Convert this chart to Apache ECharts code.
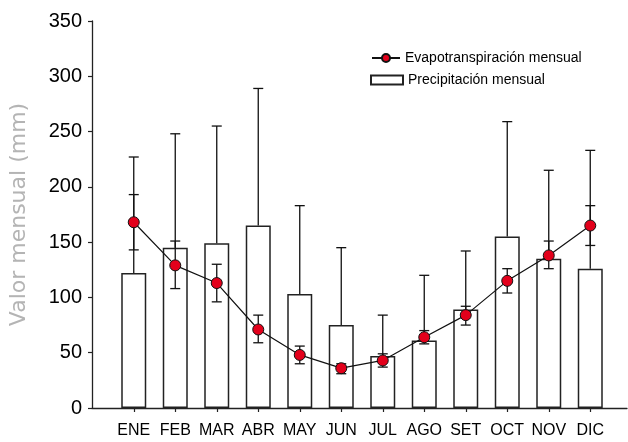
<!DOCTYPE html>
<html>
<head>
<meta charset="utf-8">
<script src="https://cdn.jsdelivr.net/npm/echarts@6/dist/echarts.min.js"></script>
<style>html,body{margin:0;padding:0;background:#fff;}#c{width:628px;height:442px;}</style>
</head>
<body>
<div id="c"></div>
<script>
var months = ['ENE','FEB','MAR','ABR','MAY','JUN','JUL','AGO','SET','OCT','NOV','DIC'];
var precip = [122, 145, 149, 165, 103, 75, 47, 61, 89, 155, 135, 126];
var precipUpper = [227, 248, 255, 289, 183, 145, 84, 120, 142, 259, 215, 233];
var evap = [168, 129, 113, 71, 48, 36, 43, 64, 84, 115, 138, 165];
var evapUpper = [193, 151, 130, 84, 56, 40, 49, 70, 92, 126, 151, 183];
var evapLower = [143, 108, 96, 59, 40, 31, 37, 58, 75, 104, 126, 147];
var yTicks = [0, 50, 100, 150, 200, 250, 300, 350];

var precipErr = months.map(function(m, i){ return [i, precip[i], precipUpper[i]]; });
var evapErr = months.map(function(m, i){ return [i, evapLower[i], evapUpper[i]]; });

function errRender(capLow) {
  return function(params, api) {
    var lo = api.coord([api.value(0), api.value(1)]);
    var hi = api.coord([api.value(0), api.value(2)]);
    var c = 5;
    var st = {stroke:'#111', lineWidth:1.3};
    var ch = [
      {type:'line', shape:{x1:lo[0], y1:lo[1], x2:hi[0], y2:hi[1]}, style:st},
      {type:'line', shape:{x1:hi[0]-c, y1:hi[1], x2:hi[0]+c, y2:hi[1]}, style:st}
    ];
    if (capLow) ch.push({type:'line', shape:{x1:lo[0]-c, y1:lo[1], x2:lo[0]+c, y2:lo[1]}, style:st});
    return {type:'group', children:ch};
  };
}

var chart = echarts.init(document.getElementById('c'), null, {renderer:'canvas'});
chart.setOption({
  animation: false,
  backgroundColor: '#fff',
  grid: [
    {left:113, right:17, top:21, bottom:34},
    {left:90, right:1, top:21, bottom:34}
  ],
  legend: [
    {data:['Evapotranspiración mensual'], orient:'vertical', left:366, top:46, itemWidth:28, itemHeight:10, itemGap:6,
     textStyle:{fontFamily:'Liberation Sans', fontSize:14, color:'#000'}},
    {data:['Precipitación mensual'], orient:'vertical', left:365, top:68, itemWidth:32, itemHeight:9, icon:'rect',
     textStyle:{fontFamily:'Liberation Sans', fontSize:14, color:'#000'}}
  ],
  xAxis: [
    {type:'category', gridIndex:0, data:months, boundaryGap:true,
     axisLine:{show:false},
     axisTick:{show:true, alignWithLabel:true, length:4, lineStyle:{color:'#222', width:1.2}},
     axisLabel:{interval:0, fontFamily:'Liberation Sans', fontSize:16, color:'#000', margin:15}},
    {type:'value', gridIndex:1, min:0, max:1,
     axisLine:{show:true, lineStyle:{color:'#222', width:1.3}},
     axisTick:{show:false}, axisLabel:{show:false}, splitLine:{show:false}}
  ],
  yAxis: [
    {type:'value', gridIndex:0, min:0, max:350, show:false},
    {type:'value', gridIndex:1, min:0, max:350, interval:50,
     axisLine:{show:true, lineStyle:{color:'#222', width:1.3}},
     axisTick:{show:true, length:4, lineStyle:{color:'#222', width:1.2}},
     axisLabel:{fontFamily:'Liberation Sans', fontSize:20, color:'#000', margin:10,
       formatter:function(v){ return yTicks.indexOf(v) >= 0 ? String(v) : ''; }},
     splitLine:{show:false},
     name:'Valor mensual (mm)', nameLocation:'middle', nameGap:62, nameRotate:90,
     nameTextStyle:{fontFamily:'DejaVu Sans', fontSize:22, color:'#b4b4b4'}}
  ],
  series: [
    {name:'Precipitación mensual', type:'bar', xAxisIndex:0, yAxisIndex:0, data:precip, barWidth:25,
     itemStyle:{color:'#fff', borderColor:'#222', borderWidth:1.5}, z:1},
    {name:'precipErr', type:'custom', xAxisIndex:0, yAxisIndex:0, data:precipErr, renderItem:errRender(false), z:2},
    {name:'evapErr', type:'custom', xAxisIndex:0, yAxisIndex:0, data:evapErr, renderItem:errRender(true), z:3},
    {name:'Evapotranspiración mensual', type:'line', xAxisIndex:0, yAxisIndex:0, data:evap,
     symbol:'circle', symbolSize:11,
     lineStyle:{color:'#111', width:1.2},
     itemStyle:{color:'#e3001b', borderColor:'#111', borderWidth:1}, z:4}
  ]
});
</script>
</body>
</html>
